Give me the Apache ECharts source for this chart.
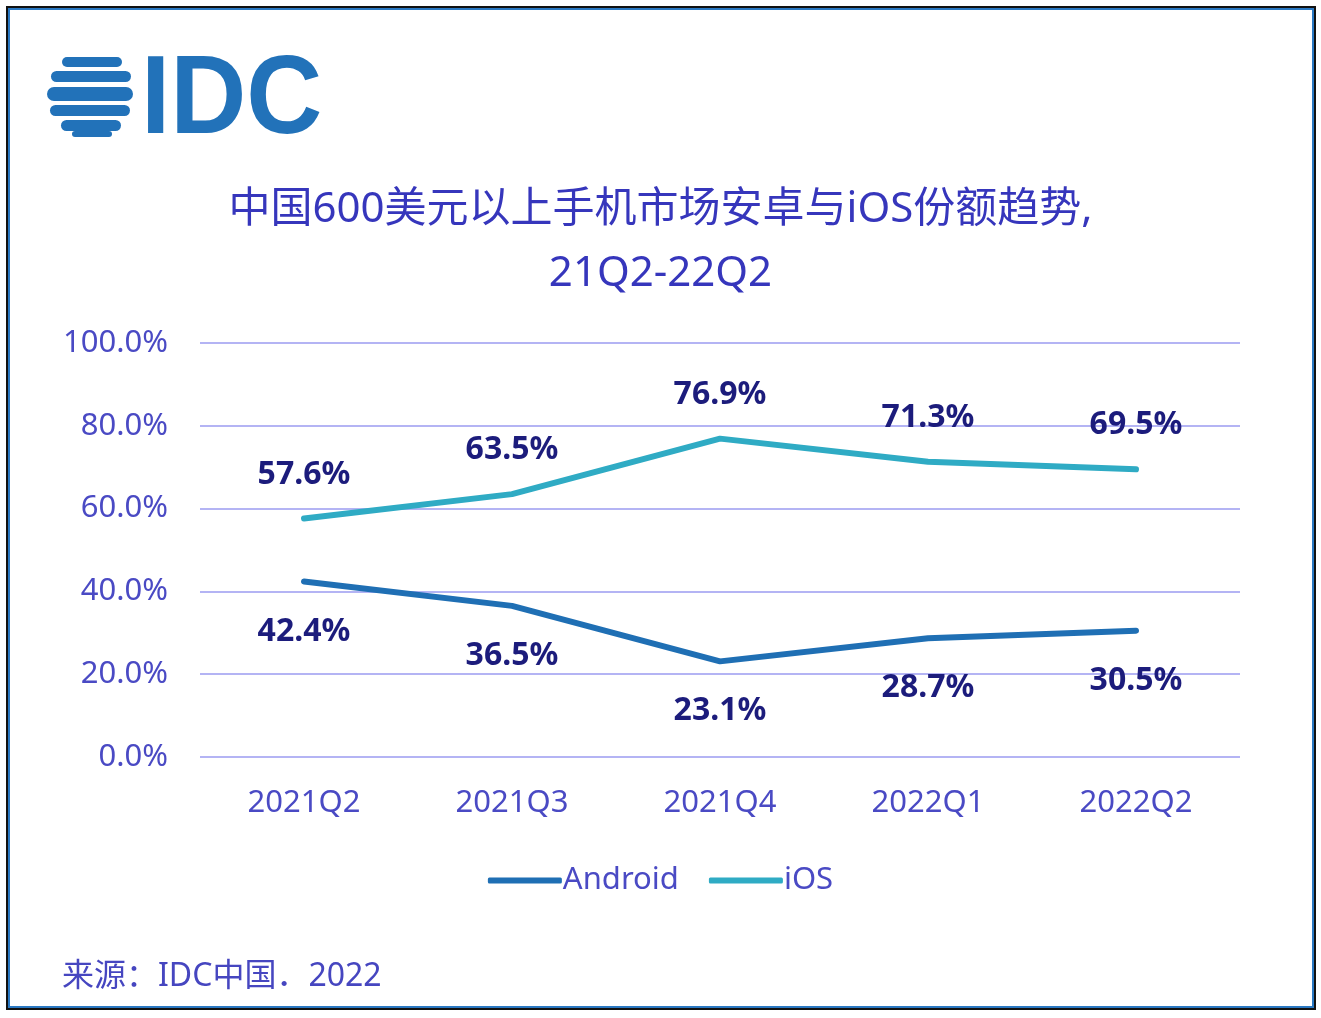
<!DOCTYPE html>
<html>
<head>
<meta charset="utf-8">
<script src="https://cdn.jsdelivr.net/npm/echarts@6/dist/echarts.min.js"></script>
<style>
html,body{margin:0;padding:0;background:#fff;}
#frame{position:absolute;left:6px;top:6px;width:1306px;height:1000px;border:2px solid #111;box-sizing:content-box;}
#inner{position:absolute;left:0;top:0;right:0;bottom:0;border:2px solid #2a78c2;}
#chart{position:absolute;left:0;top:0;width:1321px;height:1018px;}
</style>
</head>
<body>
<div id="frame"><div id="inner"></div></div>
<div id="chart"></div>
<script>
const categories = ['2021Q2', '2021Q3', '2021Q4', '2022Q1', '2022Q2'];
const androidShare = [42.4, 36.5, 23.1, 28.7, 30.5];
const iosShare = [57.6, 63.5, 76.9, 71.3, 69.5];
const seriesNames = ['Android', 'iOS'];
const titleLine1 = '中国600美元以上手机市场安卓与iOS份额趋势,';
const titleLine2 = '21Q2-22Q2';
const sourceText = '来源：IDC中国．2022';

const FONT = '"Noto Sans", "Noto Sans CJK SC", sans-serif';
const axisColor = '#4a4ac4';
const labelColor = '#1c1c7c';
const logoBlue = '#2272b9';

const chart = echarts.init(document.getElementById('chart'));

const globe = [
  {x: 62, y: 57, w: 60, h: 10},
  {x: 51, y: 71, w: 80, h: 11},
  {x: 47, y: 87, w: 86, h: 14},
  {x: 50, y: 105, w: 80, h: 11},
  {x: 61, y: 120, w: 60, h: 11},
  {x: 72, y: 131, w: 40, h: 6}
].map(s => ({
  type: 'rect',
  shape: {x: s.x, y: s.y, width: s.w, height: s.h, r: s.h / 2},
  style: {fill: logoBlue}
}));

const pct = p => p.value.toFixed(1) + '%';

chart.setOption({
  backgroundColor: 'transparent',
  textStyle: {fontFamily: FONT},
  title: {
    text: titleLine1 + '\n' + titleLine2,
    left: 'center',
    top: 173,
    textStyle: {
      fontFamily: FONT,
      fontSize: 42,
      fontWeight: 'normal',
      color: '#3636bc',
      lineHeight: 64
    }
  },
  graphic: [
    ...globe,
    {
      type: 'text',
      left: 141,
      top: 46,
      scaleX: 0.94,
      style: {
        text: 'IDC',
        fill: logoBlue,
        font: 'bold 112px "Liberation Sans", Arial, sans-serif'
      }
    },
    {
      type: 'text',
      left: 62,
      top: 961,
      style: {
        text: sourceText,
        fill: '#4646c0',
        font: '32px ' + FONT
      }
    }
  ],
  legend: {
    data: seriesNames,
    bottom: 117,
    left: 'center',
    itemWidth: 74,
    itemHeight: 6,
    itemGap: 30,
    icon: 'roundRect',
    textStyle: {fontSize: 31, color: axisColor, fontFamily: FONT, padding: [0, 0, 0, -4]}
  },
  grid: {left: 200, right: 81, top: 343, bottom: 261},
  xAxis: {
    type: 'category',
    data: categories,
    boundaryGap: true,
    axisLine: {show: false},
    axisTick: {show: false},
    axisLabel: {fontSize: 31, color: axisColor, margin: 31, fontFamily: FONT}
  },
  yAxis: {
    type: 'value',
    min: 0,
    max: 100,
    interval: 20,
    axisLine: {show: false},
    axisTick: {show: false},
    splitLine: {lineStyle: {color: '#b4b4f4', width: 2}},
    axisLabel: {
      fontSize: 31,
      color: axisColor,
      margin: 32,
      fontFamily: FONT,
      formatter: v => v.toFixed(1) + '%'
    }
  },
  series: [
    {
      name: 'Android',
      type: 'line',
      data: androidShare,
      symbol: 'circle',
      symbolSize: 0,
      showSymbol: true,
      lineStyle: {width: 6, color: '#1f6fb4', cap: 'round'},
      itemStyle: {color: '#1f6fb4'},
      label: {
        show: true,
        position: 'bottom',
        distance: 34,
        fontSize: 32,
        fontWeight: 'bold',
        color: labelColor,
        fontFamily: FONT,
        formatter: pct
      }
    },
    {
      name: 'iOS',
      type: 'line',
      data: iosShare,
      symbol: 'circle',
      symbolSize: 0,
      showSymbol: true,
      lineStyle: {width: 6, color: '#2fabc4', cap: 'round'},
      itemStyle: {color: '#2fabc4'},
      label: {
        show: true,
        position: 'top',
        distance: 28,
        fontSize: 32,
        fontWeight: 'bold',
        color: labelColor,
        fontFamily: FONT,
        formatter: pct
      }
    }
  ]
});
</script>
</body>
</html>
